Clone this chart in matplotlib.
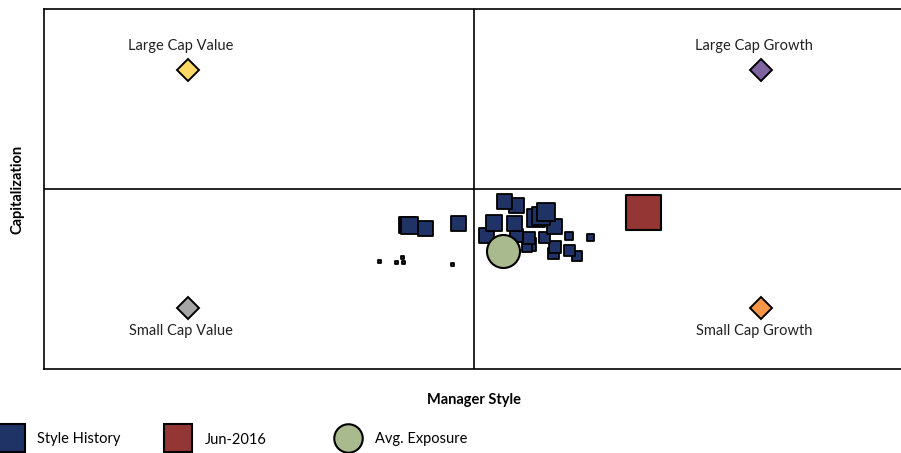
import matplotlib
matplotlib.use("Agg")
import matplotlib.pyplot as plt
from matplotlib.lines import Line2D

# style history (manager style x, capitalization y, marker side in px)
hist_x = [-0.219, -0.181, -0.167, -0.163, -0.051,
          -0.156, -0.149, -0.112, -0.037,
          0.240, 0.221, 0.184, 0.188, 0.272, 0.221, 0.163,
          0.128, 0.123, 0.128, 0.098, 0.028, 0.188,
          0.095, 0.047, 0.098, 0.072, 0.144, 0.156, 0.167]
hist_y = [-0.400, -0.406, -0.378, -0.406, -0.417,
          -0.200, -0.200, -0.217, -0.194,
          -0.372, -0.339, -0.356, -0.322, -0.272, -0.261, -0.272,
          -0.306, -0.322, -0.272, -0.261, -0.261, -0.211,
          -0.194, -0.189, -0.089, -0.067, -0.161, -0.150, -0.128]
hist_w = [3, 3, 3, 3, 3,
          16, 17, 15, 15,
          10, 11, 11, 12, 7, 8, 11,
          13, 10, 12, 13, 15, 15,
          15, 16, 15, 15, 18, 18, 18]

current_x, current_y, current_w = 0.393, -0.128, 35
avg_x, avg_y, avg_w = 0.067, -0.344, 33

corner_names = ["Large Cap Value", "Large Cap Growth", "Small Cap Value", "Small Cap Growth"]
corner_x = [-0.665, 0.667, -0.665, 0.667]
corner_y = [0.66, 0.66, -0.66, -0.66]
corner_colors = ["#FFD966", "#8064A2", "#A6A6A6", "#F79646"]
label_x = [-0.681, 0.651, -0.681, 0.651]
label_y = [0.795, 0.795, -0.79, -0.79]

navy = "#1F3366"
red = "#943634"
green = "#A9BA8E"

plt.rcParams['font.family'] = ['Lato', 'DejaVu Sans']

fig = plt.figure(figsize=(9.01, 4.53), dpi=100)
ax = fig.add_axes([44 / 901, 84 / 453, 860 / 901, 360 / 453])
ax.set_xlim(-1, 1)
ax.set_ylim(-1, 1)
ax.set_xticks([])
ax.set_yticks([])
for sp in ax.spines.values():
    sp.set_linewidth(1.2)

ax.axvline(0, color="black", lw=1.2, zorder=1)
ax.axhline(0, color="black", lw=1.2, zorder=1)

px = 0.72  # points per pixel at 100 dpi
ax.scatter(hist_x, hist_y, s=[(w * px) ** 2 for w in hist_w], marker="s",
           c=navy, edgecolors="black", linewidths=1.3, zorder=3)
ax.scatter([current_x], [current_y], s=[(current_w * px) ** 2], marker="s",
           c=red, edgecolors="black", linewidths=1.5, zorder=4)
ax.scatter([avg_x], [avg_y], s=[(avg_w * px) ** 2], marker="o",
           c=green, edgecolors="black", linewidths=1.5, zorder=5)

for name, cx, cy, col, lx, ly in zip(corner_names, corner_x, corner_y,
                                     corner_colors, label_x, label_y):
    ax.plot(cx, cy, marker="D", ms=11, mfc=col, mec="black", mew=1.4, zorder=3)
    ax.text(lx, ly, name, ha="center", va="center", fontsize=10.5, color="#222222")

ax.set_xlabel("Manager Style", fontsize=10.5, fontweight="bold", labelpad=17.5)
ax.set_ylabel("Capitalization", fontsize=10.5, fontweight="bold", labelpad=14)

# legend, three fixed slots along the bottom
leg_items = [("Style History", navy, "s"), ("Jun-2016", red, "s"), ("Avg. Exposure", green, "o")]
leg_x = [-0.7 / 901, 166.8 / 901, 336.8 / 901]
for (lab, col, mk), lx in zip(leg_items, leg_x):
    h = Line2D([], [], ls="", marker=mk, ms=20.5, mfc=col, mec="black", mew=1.5)
    fig.legend(handles=[h], labels=[lab], loc="center left",
               bbox_to_anchor=(lx, 13.5 / 453), frameon=False, fontsize=10.5,
               handlelength=1.6, handletextpad=1.0, borderpad=0, borderaxespad=0)

fig.savefig("out.png", dpi=100)
